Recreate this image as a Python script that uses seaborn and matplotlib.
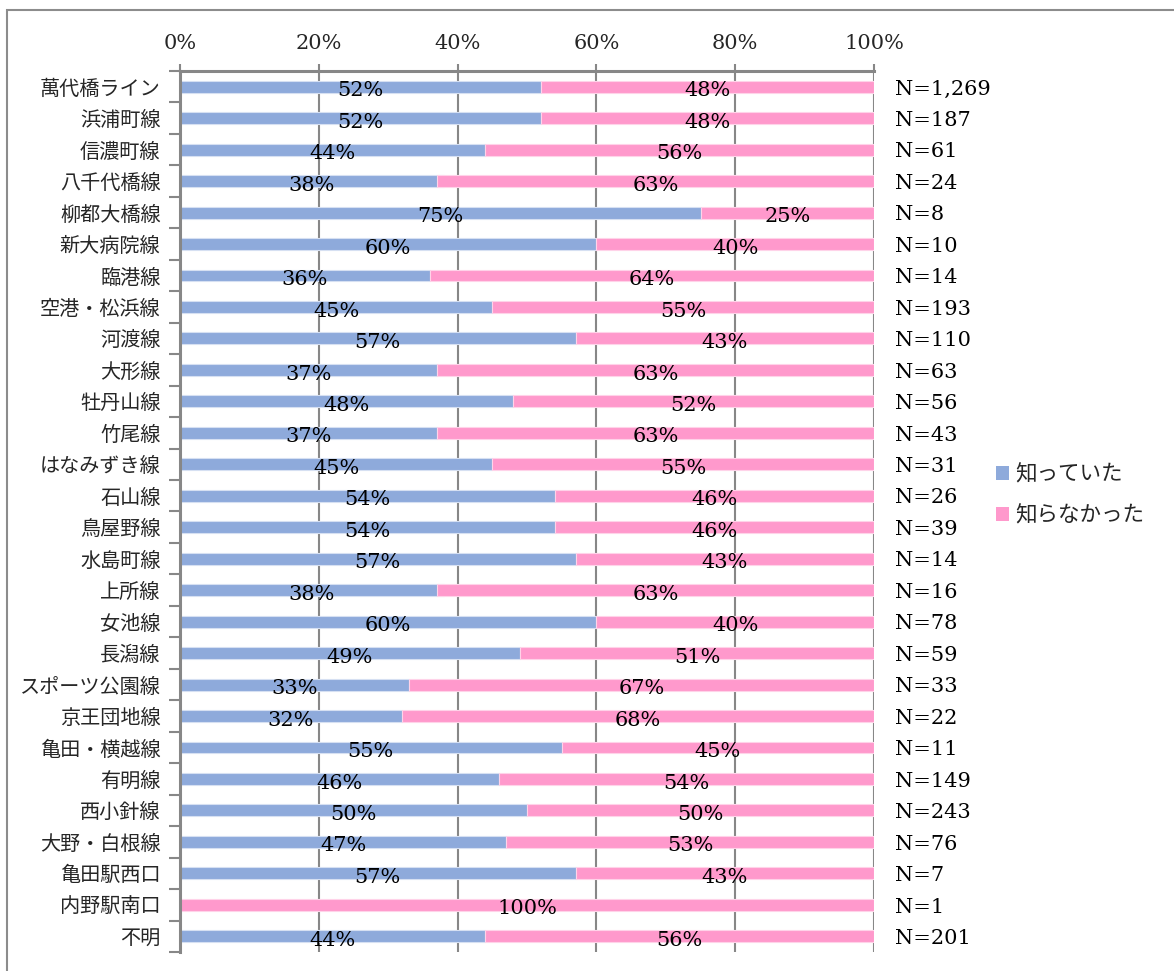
import numpy as np
import pandas as pd
import matplotlib
matplotlib.use("Agg")
import matplotlib.pyplot as plt
import seaborn as sns
from matplotlib.patches import Patch, Rectangle
from matplotlib.ticker import FixedLocator

# --- data -------------------------------------------------------------
routes = ["萬代橋ライン", "浜浦町線", "信濃町線", "八千代橋線", "柳都大橋線", "新大病院線",
          "臨港線", "空港・松浜線", "河渡線", "大形線", "牡丹山線", "竹尾線", "はなみずき線",
          "石山線", "鳥屋野線", "水島町線", "上所線", "女池線", "長潟線", "スポーツ公園線",
          "京王団地線", "亀田・横越線", "有明線", "西小針線", "大野・白根線", "亀田駅西口",
          "内野駅南口", "不明"]
knew = [52, 52, 44, 38, 75, 60, 36, 45, 57, 37, 48, 37, 45, 54, 54, 57, 38, 60, 49,
        33, 32, 55, 46, 50, 47, 57, 0, 44]
didnt_know = [48, 48, 56, 63, 25, 40, 64, 55, 43, 63, 52, 63, 55, 46, 46, 43, 63, 40, 51,
              67, 68, 45, 54, 50, 53, 43, 100, 56]
n_resp = [1269, 187, 61, 24, 8, 10, 14, 193, 110, 63, 56, 43, 31, 26, 39, 14, 16, 78, 59,
          33, 22, 11, 149, 243, 76, 7, 1, 201]
series_names = ["知っていた", "知らなかった"]

BLUE = "#8eaadb"
PINK = "#ff99cc"
GRID = "#878787"
JP = ["Noto Sans CJK JP", "DejaVu Sans"]
SERIF = ["DejaVu Serif"]
NUM_SIZE = 15

sns.set_theme(style="white")
plt.rcParams["font.family"] = JP

df = pd.DataFrame({"route": routes, "knew": knew, "didnt": didnt_know, "n": n_resp})

fig = plt.figure(figsize=(11.74, 9.71), dpi=100)
ax = fig.add_axes([180 / 1174, 1 - 952 / 971, 694 / 1174, 881 / 971])

sns.barplot(data=df, x="knew", y="route", orient="h", color=BLUE, width=0.38,
            edgecolor="#d6e0f2", linewidth=0.8, saturation=1, ax=ax)
ypos = np.arange(len(routes))
ax.barh(ypos, df["didnt"], left=100 - df["didnt"], height=0.38, color=PINK,
        edgecolor="#ffd3e9", linewidth=0.8)

# data labels
for i, row in df.iterrows():
    if row["knew"] > 0:
        ax.text(row["knew"] / 2, i + 0.13, f"{row['knew']}%", ha="center", va="center",
                fontsize=NUM_SIZE, family=SERIF, color="black")
    if row["didnt"] > 0:
        ax.text(100 - row["didnt"] / 2, i + 0.13, f"{row['didnt']}%", ha="center",
                va="center", fontsize=NUM_SIZE, family=SERIF, color="black")
    ax.text(103, i + 0.07, f"N={row['n']:,}", ha="left", va="center", fontsize=NUM_SIZE,
            family=SERIF, color="black", clip_on=False)

# axes styling
ax.set_xlim(0, 100)
ax.set_ylim(len(routes) - 0.5, -0.5)
ax.xaxis.tick_top()
ax.set_xticks([0, 20, 40, 60, 80, 100])
ax.set_xticklabels([f"{v}%" for v in range(0, 101, 20)], family=SERIF, fontsize=NUM_SIZE)
ax.tick_params(axis="x", top=True, length=5, width=1.5, color=GRID, pad=8)
ax.set_xlabel("")
ax.set_ylabel("")
ax.tick_params(axis="y", which="major", length=0, pad=14, labelsize=14.5)
ax.yaxis.set_minor_locator(FixedLocator(np.arange(-0.5, len(routes), 1)))
ax.tick_params(axis="y", which="minor", left=True, length=8, width=1.5, color=GRID)

ax.set_axisbelow(True)
ax.grid(axis="x", color=GRID, linewidth=1.5)
ax.grid(axis="y", visible=False)
for side in ["right", "bottom"]:
    ax.spines[side].set_visible(False)
for side in ["left", "top"]:
    ax.spines[side].set_visible(True)
    ax.spines[side].set_color(GRID)
    ax.spines[side].set_linewidth(2.2)

handles = [Patch(facecolor=BLUE, edgecolor="none"), Patch(facecolor=PINK, edgecolor="none")]
fig.legend(handles, series_names, loc="center left", bbox_to_anchor=(985 / 1174, 1 - 495 / 971),
           frameon=False, fontsize=15.5, handlelength=0.6, handleheight=0.6,
           handletextpad=0.3, labelspacing=0.9, borderpad=0)

# outer chart border
fig.patches.append(Rectangle((7 / 1174, -0.05), 1.2, 1.05 - 10 / 971, transform=fig.transFigure,
                             fill=False, edgecolor="#8c8c8c", linewidth=1.5))

fig.savefig("out.png", dpi=100)
